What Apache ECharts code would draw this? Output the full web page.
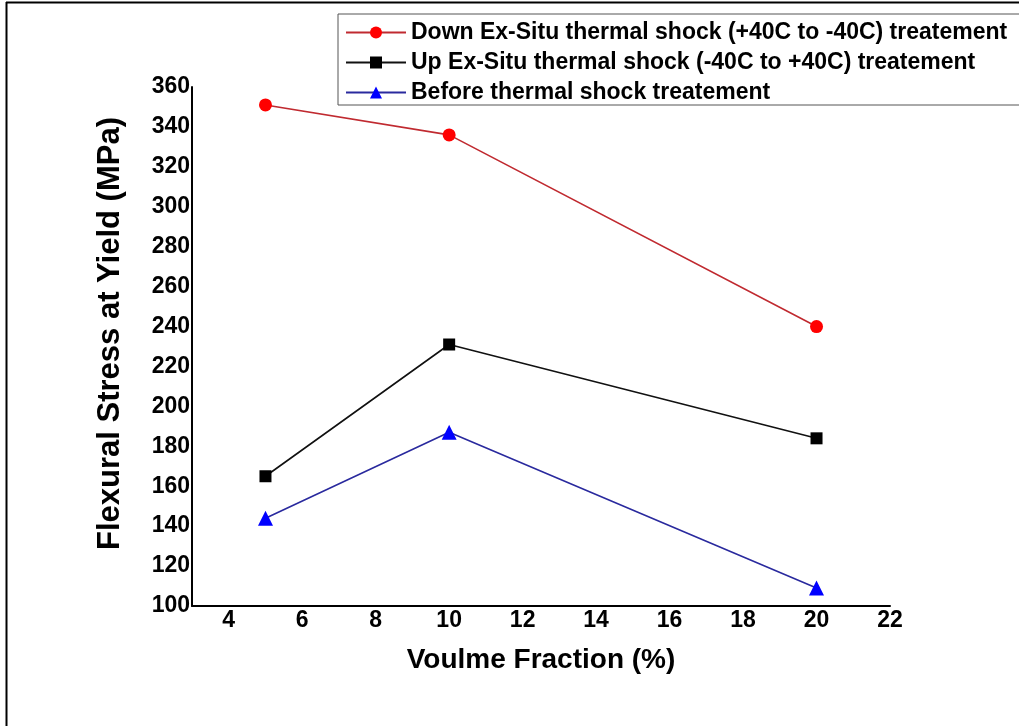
<!DOCTYPE html>
<html>
<head>
<meta charset="utf-8">
<title>Flexural Stress at Yield vs Volume Fraction</title>
<script src="https://cdn.jsdelivr.net/npm/echarts@6/dist/echarts.min.js"></script>
<style>
  html, body { margin: 0; padding: 0; background: #fff; }
  #chart { width: 1019px; height: 726px; }
</style>
</head>
<body>
<div id="chart"></div>
<script>
// Volume fraction (%) of each specimen set
const volumeFraction = [5, 10, 20];

// Flexural stress at yield (MPa) for each treatment
const downExSitu = [351, 336, 240];
const upExSitu = [165, 231, 184];
const beforeShock = [144, 187, 109];

const seriesNames = [
  'Down Ex-Situ thermal shock (+40C to -40C) treatement',
  'Up Ex-Situ thermal shock (-40C to +40C) treatement',
  'Before thermal shock treatement'
];

// Axis tick labels
const xTicks = [4, 6, 8, 10, 12, 14, 16, 18, 20, 22];
const yTicks = [100, 120, 140, 160, 180, 200, 220, 240, 260, 280, 300, 320, 340, 360];

const FONT = '"Liberation Sans", Arial, sans-serif';

function pairs(ys) {
  return volumeFraction.map((x, i) => [x, ys[i]]);
}

const chart = echarts.init(document.getElementById('chart'), null, { renderer: 'canvas' });

chart.setOption({
  backgroundColor: '#ffffff',
  animation: false,
  textStyle: { fontFamily: FONT },
  graphic: [
    // outer frame, top and left edges
    { type: 'line', shape: { x1: 6, y1: 2.5, x2: 1019, y2: 2.5 }, style: { stroke: '#000', lineWidth: 2 } },
    { type: 'line', shape: { x1: 6.5, y1: 2, x2: 6.5, y2: 726 }, style: { stroke: '#000', lineWidth: 2 } }
  ],
  grid: { left: 192, right: 129, top: 87, bottom: 120, containLabel: false },
  legend: {
    orient: 'vertical',
    left: 338,
    top: 14,
    padding: [7, 40, 1, 7],
    itemGap: 7,
    itemWidth: 60,
    itemHeight: 15,
    borderColor: '#555',
    borderWidth: 1,
    textStyle: { fontFamily: FONT, fontWeight: 'bold', fontSize: 23, color: '#000', lineHeight: 23 },
    data: seriesNames
  },
  xAxis: {
    type: 'value',
    min: 3,
    max: 22,
    name: 'Voulme Fraction (%)',
    nameLocation: 'middle',
    nameGap: 40,
    nameTextStyle: { fontFamily: FONT, fontWeight: 'bold', fontSize: 28, color: '#000' },
    axisLine: { show: true, onZero: false, lineStyle: { color: '#000', width: 2 } },
    axisTick: { show: false },
    splitLine: { show: false },
    axisLabel: {
      customValues: xTicks,
      margin: 3,
      fontFamily: FONT, fontWeight: 'bold', fontSize: 23, color: '#000'
    }
  },
  yAxis: {
    type: 'value',
    min: 100,
    max: 360,
    interval: 20,
    name: 'Flexural Stress at Yield (MPa)',
    nameLocation: 'middle',
    nameGap: 66,
    nameTextStyle: {
      fontFamily: FONT, fontWeight: 'bold', fontSize: 31, color: '#000',
      padding: [0, 0, 0, 26]
    },
    axisLine: { show: true, onZero: false, lineStyle: { color: '#000', width: 2 } },
    axisTick: { show: false },
    splitLine: { show: false },
    axisLabel: {
      customValues: yTicks,
      margin: 2,
      fontFamily: FONT, fontWeight: 'bold', fontSize: 23, color: '#000'
    }
  },
  series: [
    {
      name: seriesNames[0],
      type: 'line',
      data: pairs(downExSitu),
      symbol: 'circle',
      symbolSize: 13,
      lineStyle: { color: '#c02a30', width: 1.6 },
      itemStyle: { color: '#ff0000' }
    },
    {
      name: seriesNames[1],
      type: 'line',
      data: pairs(upExSitu),
      symbol: 'rect',
      symbolSize: 12,
      lineStyle: { color: '#111', width: 1.6 },
      itemStyle: { color: '#000' }
    },
    {
      name: seriesNames[2],
      type: 'line',
      data: pairs(beforeShock),
      symbol: 'triangle',
      symbolSize: 15,
      lineStyle: { color: '#2a2a9e', width: 1.6 },
      itemStyle: { color: '#0000ff' }
    }
  ]
});
</script>
</body>
</html>
